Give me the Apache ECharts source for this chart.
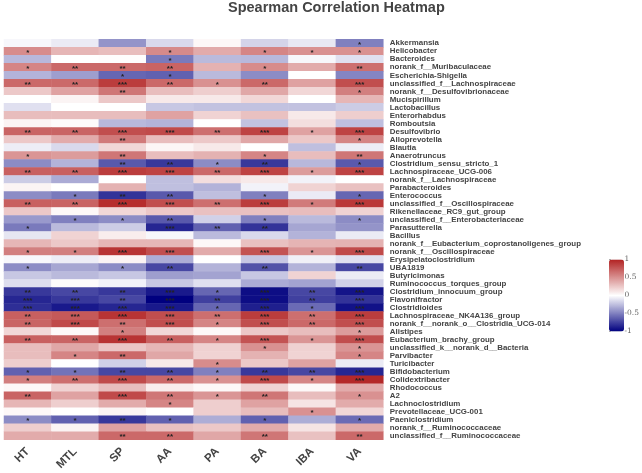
<!DOCTYPE html>
<html>
<head>
<meta charset="utf-8">
<title>Spearman Correlation Heatmap</title>
<style>
    html, body { margin: 0; padding: 0; background: #fff; }
    #main { width: 642px; height: 473px; }
</style>
<script src="https://cdn.jsdelivr.net/npm/echarts@6/dist/echarts.min.js"></script>
</head>
<body>
<div id="main"></div>
<script>
var groups = ['HT', 'MTL', 'SP', 'AA', 'PA', 'BA', 'IBA', 'VA'];

var taxa = [
    'Akkermansia', 'Helicobacter', 'Bacteroides', 'norank_f__Muribaculaceae', 'Escherichia-Shigella',
    'unclassified_f__Lachnospiraceae', 'norank_f__Desulfovibrionaceae', 'Mucispirillum', 'Lactobacillus', 'Enterorhabdus',
    'Romboutsia', 'Desulfovibrio', 'Alloprevotella', 'Blautia', 'Anaerotruncus',
    'Clostridium_sensu_stricto_1', 'Lachnospiraceae_UCG-006', 'norank_f__Lachnospiraceae', 'Parabacteroides', 'Enterococcus',
    'unclassified_f__Oscillospiraceae', 'Rikenellaceae_RC9_gut_group', 'unclassified_f__Enterobacteriaceae', 'Parasutterella', 'Bacillus',
    'norank_f__Eubacterium_coprostanoligenes_group', 'norank_f__Oscillospiraceae', 'Erysipelatoclostridium', 'UBA1819', 'Butyricimonas',
    'Ruminococcus_torques_group', 'Clostridium_innocuum_group', 'Flavonifractor', 'Clostridioides', 'Lachnospiraceae_NK4A136_group',
    'norank_f__norank_o__Clostridia_UCG-014', 'Alistipes', 'Eubacterium_brachy_group', 'unclassified_k__norank_d__Bacteria', 'Parvibacter',
    'Turicibacter', 'Bifidobacterium', 'Colidextribacter', 'Rhodococcus', 'A2',
    'Lachnoclostridium', 'Prevotellaceae_UCG-001', 'Paeniclostridium', 'norank_f__Ruminococcaceae', 'unclassified_f__Ruminococcaceae'
];

// correlation, one row per taxon, columns in the order of groups
var rho = [
    [-0.03, -0.08, -0.42, -0.15, 0.03, -0.17, -0.09, -0.50],
    [0.52, 0.33, 0.30, 0.53, 0.38, 0.55, 0.50, 0.50],
    [-0.28, 0.00, 0.01, -0.52, -0.27, -0.28, -0.03, -0.12],
    [0.55, 0.68, 0.68, 0.70, 0.35, 0.52, 0.38, 0.65],
    [-0.30, -0.38, -0.60, -0.62, -0.27, -0.45, 0.00, -0.48],
    [0.68, 0.68, 0.88, 0.68, 0.50, 0.68, 0.42, 0.80],
    [0.25, 0.42, 0.62, 0.30, 0.22, 0.40, 0.18, 0.58],
    [0.00, 0.05, 0.25, 0.10, 0.10, 0.18, 0.00, 0.33],
    [-0.12, 0.00, 0.00, -0.22, -0.24, -0.24, -0.24, -0.20],
    [0.30, 0.30, 0.30, 0.42, 0.20, 0.28, 0.10, 0.22],
    [0.05, 0.02, -0.28, -0.30, 0.00, -0.24, 0.15, -0.25],
    [0.70, 0.70, 0.80, 0.82, 0.65, 0.85, 0.42, 0.85],
    [0.25, 0.38, 0.60, 0.30, 0.25, 0.40, 0.25, 0.55],
    [-0.07, -0.15, 0.18, 0.04, 0.10, 0.00, -0.25, -0.07],
    [0.48, 0.45, 0.62, 0.30, 0.35, 0.55, 0.30, 0.62],
    [-0.45, -0.30, -0.65, -0.78, -0.45, -0.78, -0.28, -0.65],
    [0.72, 0.72, 0.88, 0.85, 0.68, 0.85, 0.45, 0.85],
    [-0.20, -0.33, 0.00, -0.25, 0.15, 0.10, -0.05, 0.00],
    [0.05, 0.00, 0.35, -0.25, -0.30, -0.05, 0.20, 0.28],
    [-0.45, -0.52, -0.80, -0.65, -0.25, -0.50, -0.08, -0.60],
    [0.72, 0.70, 0.95, 0.80, 0.65, 0.88, 0.60, 0.90],
    [0.25, 0.03, 0.18, 0.25, 0.28, 0.28, 0.30, 0.20],
    [-0.40, -0.50, -0.45, -0.65, -0.18, -0.50, -0.27, -0.45],
    [-0.52, -0.27, -0.20, -0.85, -0.62, -0.80, -0.35, -0.42],
    [-0.10, 0.20, 0.08, -0.03, -0.27, -0.15, -0.30, -0.08],
    [0.33, 0.25, 0.33, 0.33, 0.03, 0.28, 0.34, 0.35],
    [0.58, 0.58, 0.92, 0.80, 0.38, 0.78, 0.48, 0.82],
    [-0.03, -0.07, 0.05, -0.32, 0.00, -0.22, -0.06, -0.12],
    [-0.45, -0.35, -0.45, -0.72, -0.30, -0.68, -0.30, -0.72],
    [-0.22, -0.27, -0.22, -0.38, -0.36, -0.22, 0.20, -0.08],
    [-0.13, 0.02, -0.05, -0.22, -0.12, -0.33, -0.36, -0.18],
    [-0.78, -0.72, -0.78, -0.90, -0.60, -0.95, -0.72, -0.92],
    [-0.85, -0.78, -0.72, -1.00, -0.75, -0.95, -0.75, -0.80],
    [-0.82, -0.90, -0.85, -0.90, -0.60, -0.88, -0.58, -0.93],
    [0.72, 0.75, 0.92, 0.80, 0.65, 0.88, 0.65, 0.88],
    [0.70, 0.82, 0.65, 0.80, 0.55, 0.80, 0.68, 0.80],
    [0.18, 0.03, 0.58, 0.18, 0.03, 0.25, 0.30, 0.45],
    [0.72, 0.70, 0.92, 0.72, 0.55, 0.78, 0.48, 0.80],
    [0.30, 0.40, 0.26, 0.33, 0.21, 0.50, 0.21, 0.48],
    [0.30, 0.55, 0.68, 0.40, 0.20, 0.35, 0.20, 0.55],
    [0.22, 0.00, -0.18, 0.10, 0.52, 0.25, 0.42, -0.08],
    [-0.62, -0.55, -0.72, -0.72, -0.50, -0.78, -0.72, -0.85],
    [0.58, 0.65, 0.82, 0.68, 0.50, 0.82, 0.55, 0.97],
    [0.03, 0.20, 0.30, 0.08, 0.03, 0.20, 0.03, 0.38],
    [0.70, 0.42, 0.82, 0.62, 0.48, 0.62, 0.30, 0.50],
    [0.33, 0.22, 0.38, 0.55, 0.22, 0.42, 0.12, 0.38],
    [0.03, 0.00, 0.05, 0.00, 0.22, 0.30, 0.50, 0.18],
    [-0.45, -0.62, -0.78, -0.62, -0.32, -0.62, -0.32, -0.58],
    [0.22, 0.05, 0.42, 0.28, 0.25, 0.38, 0.12, 0.38],
    [0.38, 0.38, 0.68, 0.68, 0.40, 0.62, 0.28, 0.68]
];

// number of significance stars, same shape as rho
var stars = [
    [0, 0, 0, 0, 0, 0, 0, 1],
    [1, 0, 0, 1, 0, 1, 1, 1],
    [0, 0, 0, 1, 0, 0, 0, 0],
    [1, 2, 2, 2, 0, 1, 0, 2],
    [0, 0, 1, 1, 0, 0, 0, 0],
    [2, 2, 3, 2, 1, 2, 0, 3],
    [0, 0, 2, 0, 0, 0, 0, 1],
    [0, 0, 0, 0, 0, 0, 0, 0],
    [0, 0, 0, 0, 0, 0, 0, 0],
    [0, 0, 0, 0, 0, 0, 0, 0],
    [0, 0, 0, 0, 0, 0, 0, 0],
    [2, 2, 3, 3, 2, 3, 1, 3],
    [0, 0, 2, 0, 0, 0, 0, 1],
    [0, 0, 0, 0, 0, 0, 0, 0],
    [1, 0, 2, 0, 0, 1, 0, 2],
    [0, 0, 2, 2, 1, 2, 0, 1],
    [2, 2, 3, 3, 2, 3, 1, 3],
    [0, 0, 0, 0, 0, 0, 0, 0],
    [0, 0, 0, 0, 0, 0, 0, 0],
    [0, 1, 2, 2, 0, 1, 0, 1],
    [2, 2, 3, 3, 2, 3, 1, 3],
    [0, 0, 0, 0, 0, 0, 0, 0],
    [0, 1, 1, 2, 0, 1, 0, 1],
    [1, 0, 0, 3, 2, 2, 0, 0],
    [0, 0, 0, 0, 0, 0, 0, 0],
    [0, 0, 0, 0, 0, 0, 0, 0],
    [1, 1, 3, 3, 0, 3, 1, 3],
    [0, 0, 0, 0, 0, 0, 0, 0],
    [1, 0, 1, 2, 0, 2, 0, 2],
    [0, 0, 0, 0, 0, 0, 0, 0],
    [0, 0, 0, 0, 0, 0, 0, 0],
    [2, 2, 2, 3, 1, 3, 2, 3],
    [3, 3, 2, 3, 2, 3, 2, 3],
    [3, 3, 3, 3, 1, 3, 1, 3],
    [2, 3, 3, 3, 2, 3, 2, 3],
    [2, 3, 2, 3, 1, 3, 2, 3],
    [0, 0, 1, 0, 0, 0, 0, 1],
    [2, 2, 3, 2, 1, 3, 1, 3],
    [0, 0, 0, 0, 0, 1, 0, 1],
    [0, 1, 2, 0, 0, 0, 0, 1],
    [0, 0, 0, 0, 1, 0, 0, 0],
    [1, 1, 2, 2, 1, 2, 2, 3],
    [1, 2, 3, 2, 1, 3, 1, 3],
    [0, 0, 0, 0, 0, 0, 0, 0],
    [2, 0, 3, 2, 1, 2, 0, 1],
    [0, 0, 0, 1, 0, 0, 0, 0],
    [0, 0, 0, 0, 0, 0, 1, 0],
    [1, 1, 2, 1, 0, 1, 0, 1],
    [0, 0, 0, 0, 0, 0, 0, 0],
    [0, 0, 2, 2, 0, 2, 0, 2]
];

var cells = [];
rho.forEach(function (row, y) {
    row.forEach(function (v, x) {
        cells.push([x, y, v, '*'.repeat(stars[y][x])]);
    });
});

var myChart = echarts.init(document.getElementById('main'));

myChart.setOption({
    animation: false,
    backgroundColor: '#fff',
    title: {
        text: 'Spearman Correlation Heatmap',
        left: 228,
        top: 0,
        padding: 0,
        textStyle: { fontFamily: 'Liberation Sans', fontSize: 14.5, fontWeight: 'bold', color: '#444' }
    },
    grid: [
        { left: 4, top: 39.3, width: 379.3, height: 400.4 },
        // only carries the tick marks and labels of the colour bar
        { left: 609, top: 259.5, width: 15, height: 72 }
    ],
    xAxis: [
        {
            type: 'category',
            data: groups,
            position: 'bottom',
            axisLine: { show: false },
            axisTick: { show: false },
            splitLine: { show: false },
            axisLabel: {
                interval: 0,
                rotate: 45,
                margin: 10,
                fontFamily: 'Liberation Sans',
                fontSize: 11.5,
                fontWeight: 'bold',
                color: '#444'
            }
        },
        { gridIndex: 1, type: 'value', show: false }
    ],
    yAxis: [
        {
            type: 'category',
            data: taxa,
            inverse: true,
            position: 'right',
            axisLine: { show: false },
            axisTick: { show: false },
            splitLine: { show: false },
            axisLabel: {
                interval: 0,
                margin: 6.5,
                fontFamily: 'Liberation Sans',
                fontSize: 7.9,
                fontWeight: 'bold',
                color: '#444'
            }
        },
        {
            gridIndex: 1,
            type: 'value',
            position: 'right',
            min: -1,
            max: 1,
            interval: 0.5,
            axisLine: { show: false },
            axisTick: { show: true, length: 2, lineStyle: { color: '#888', width: 0.7 } },
            splitLine: { show: false },
            axisLabel: {
                margin: 5,
                fontFamily: 'DejaVu Serif',
                fontSize: 7.5,
                color: '#666'
            }
        }
    ],
    visualMap: {
        type: 'continuous',
        min: -1,
        max: 1,
        dimension: 2,
        seriesIndex: 0,
        calculable: false,
        realtime: false,
        left: 609,
        top: 259.5,
        padding: 0,
        itemWidth: 15,
        itemHeight: 72,
        showLabel: false,
        text: null,
        inRange: { color: ['#00007f', '#ffffff', '#b22222'] }
    },
    series: [{
        type: 'heatmap',
        data: cells,
        encode: { x: 0, y: 1, value: 2 },
        label: {
            show: true,
            formatter: function (p) { return p.data[3]; },
            fontFamily: 'Liberation Sans',
            fontSize: 8,
            fontWeight: 'bold',
            color: '#222',
            offset: [0, 1.5]
        },
        emphasis: { disabled: true }
    }]
});
</script>
</body>
</html>
